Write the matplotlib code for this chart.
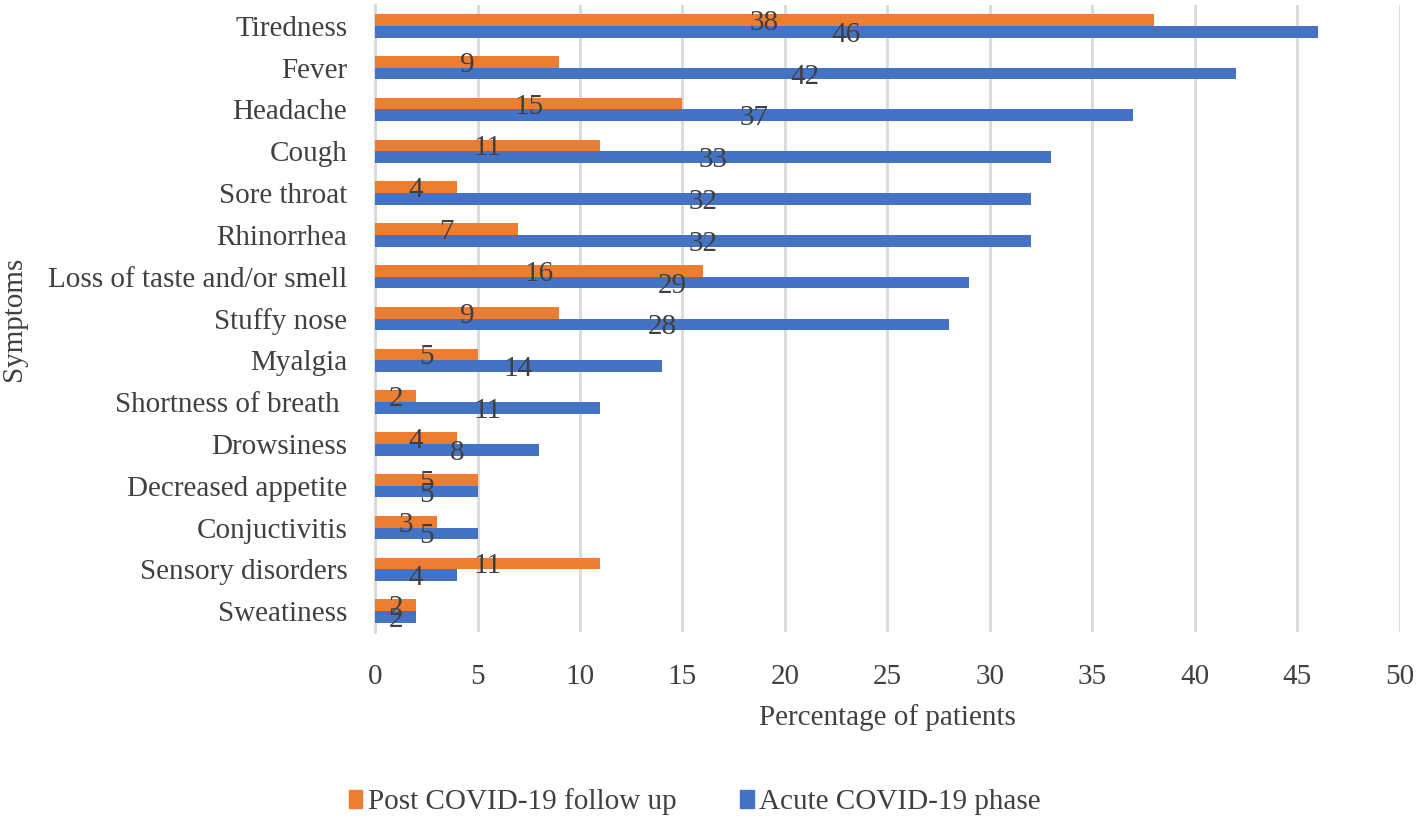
import numpy as np
import matplotlib.pyplot as plt
from matplotlib.patches import Patch

plt.rcParams['font.family'] = ['Liberation Serif', 'DejaVu Serif']

symptoms = ['Tiredness', 'Fever', 'Headache', 'Cough', 'Sore throat', 'Rhinorrhea',
            'Loss of taste and/or smell', 'Stuffy nose', 'Myalgia',
            'Shortness of breath ', 'Drowsiness', 'Decreased appetite',
            'Conjuctivitis', 'Sensory disorders', 'Sweatiness']
post_covid = [38, 9, 15, 11, 4, 7, 16, 9, 5, 2, 4, 5, 3, 11, 2]
acute_covid = [46, 42, 37, 33, 32, 32, 29, 28, 14, 11, 8, 5, 5, 4, 2]

ORANGE = '#ED7D31'
BLUE = '#4472C4'
TEXT = '#404040'
FS = 21

fig = plt.figure(figsize=(14.18, 8.23), dpi=100)
ax = fig.add_axes([0.2645, 0.232, 0.7225, 0.762])

y = np.arange(len(symptoms))
h = 0.28
bars_post = ax.barh(y - h / 2, post_covid, height=h, color=ORANGE, zorder=3)
bars_acute = ax.barh(y + h / 2, acute_covid, height=h, color=BLUE, zorder=3)

# value labels sit in the middle of each bar, like Excel's "center" option
for bars in (bars_post, bars_acute):
    labels = ax.bar_label(bars, label_type='center', fontsize=FS, color=TEXT, zorder=4)
    for t in labels:
        t.set_verticalalignment('center_baseline')

ax.set_ylim(len(symptoms) - 0.5, -0.5)
ax.set_xlim(0, 50)
ax.set_xticks(np.arange(0, 51, 5))
ax.set_yticks(y)
ax.set_yticklabels(symptoms)
ax.tick_params(axis='both', labelsize=FS, colors=TEXT, length=0)
ax.tick_params(axis='x', pad=23)
ax.tick_params(axis='y', pad=20)

ax.grid(axis='x', color='#D9D9D9', linewidth=2, zorder=0)
for side in ('top', 'right', 'bottom'):
    ax.spines[side].set_visible(False)
ax.spines['left'].set_color('#D9D9D9')
ax.spines['left'].set_linewidth(2)

ax.set_xlabel('Percentage of patients', fontsize=FS, color=TEXT, labelpad=10)
ax.set_ylabel('Symptoms', fontsize=FS, color=TEXT)
ax.yaxis.set_label_coords(-0.34, 0.5)

handles = [Patch(color=ORANGE, label='Post COVID-19 follow up'),
           Patch(color=BLUE, label='Acute COVID-19 phase')]
fig.legend(handles=handles, loc='center', bbox_to_anchor=(0.49, 0.026), ncol=2,
           frameon=False, fontsize=FS, handlelength=0.45, handleheight=0.6,
           handletextpad=0.2, columnspacing=2.2, labelcolor=TEXT)

fig.savefig('out.png', dpi=100)
